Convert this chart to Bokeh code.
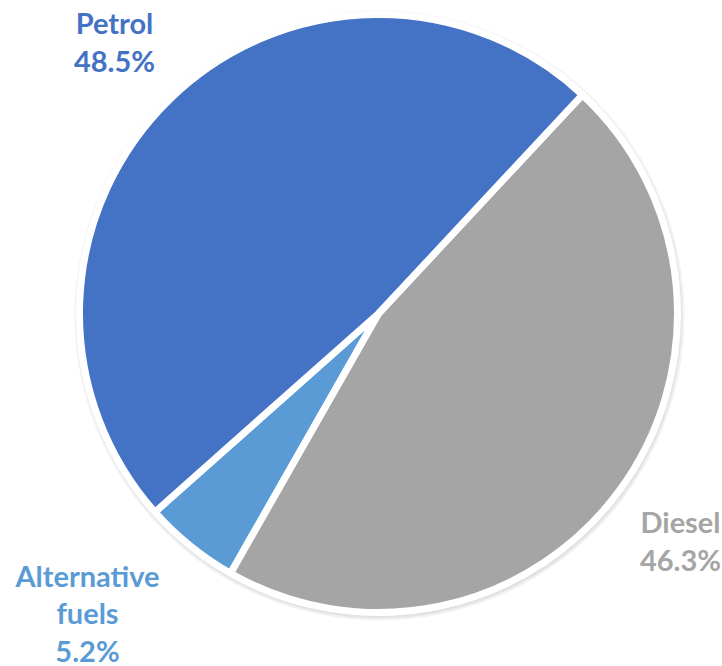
import math
from bokeh.plotting import figure
from bokeh.models import ColumnDataSource, Range1d
from bokeh.core.properties import value
from bokeh.embed import file_html
from bokeh.resources import INLINE

categories = ["Diesel", "Alternative fuels", "Petrol"]
shares = [46.3, 5.2, 48.5]
colors = ["#A5A5A5", "#5B9BD5", "#4472C4"]
label_lines = [["Diesel", "46.3%"], ["Alternative", "fuels", "5.2%"], ["Petrol", "48.5%"]]
label_pos = [(680, 540), (87, 612), (114, 41)]  # centre of label block (pixel coords)

W, H = 722, 666
CX, CY, R = 378, 313, 299
START_DEG = 47.0

p = figure(width=W, height=H, output_backend="svg", toolbar_location=None,
           x_range=Range1d(0, W), y_range=Range1d(H, 0), min_border=0)
p.axis.visible = False
p.grid.visible = False
p.outline_line_color = None
p.background_fill_color = "white"
p.border_fill_color = "white"

total = sum(shares)
starts, ends = [], []
a = math.radians(START_DEG)
for s in shares:
    sweep = 2 * math.pi * s / total
    # slices run clockwise on screen from START_DEG (visual angles)
    starts.append(a - sweep)
    ends.append(a)
    a -= sweep

# soft shadow
for alpha, dr in [(0.05, 6), (0.05, 4), (0.06, 2)]:
    p.circle(x=[CX + 1], y=[CY + 2], radius=R + dr, fill_color="#000000",
             fill_alpha=alpha, line_color=None)

src = ColumnDataSource(dict(start=starts, end=ends, color=colors, cat=categories))
p.wedge(x=CX, y=CY, radius=R, start_angle="start", end_angle="end",
        direction="anticlock", fill_color="color", line_color="white",
        line_width=7, source=src)

line_h = 37.5
for lines, (lx, ly), col in zip(label_lines, label_pos, colors):
    n = len(lines)
    ys = [ly + (i - (n - 1) / 2) * line_h for i in range(n)]
    p.text(x=[lx] * n, y=ys, text=lines, text_color=col,
           text_font=value("Lato"), text_font_style="bold",
           text_font_size="29px", text_align="center", text_baseline="middle")

open("out.html", "w").write(file_html(p, INLINE))
